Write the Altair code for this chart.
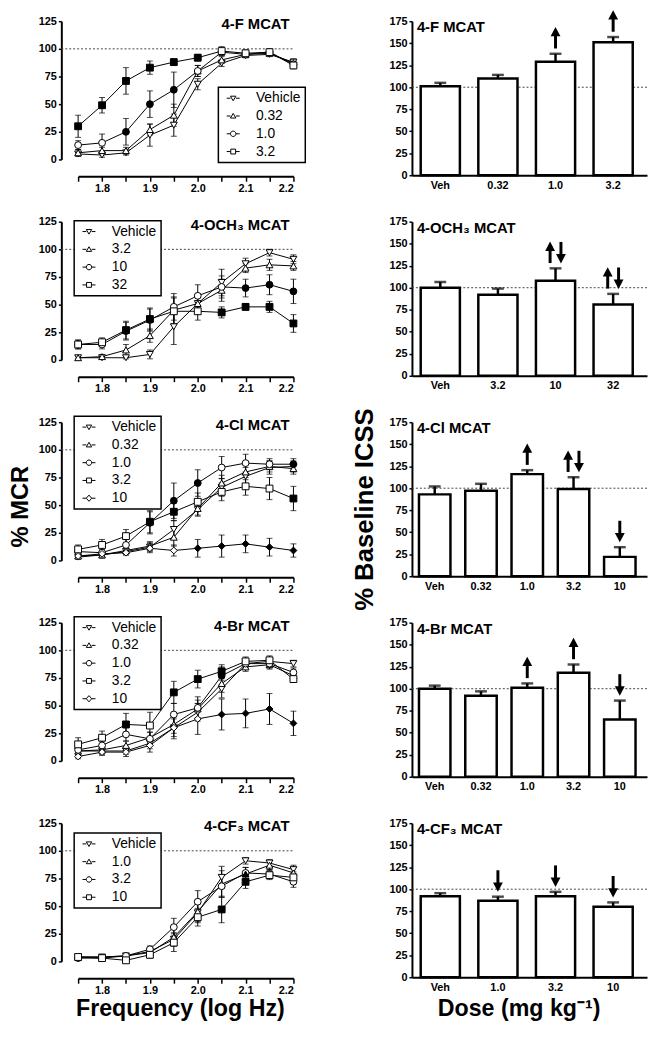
import altair as alt
import pandas as pd

FONT = "Liberation Sans"

# ---------------- shared axes values ----------------
FREQ = [1.75, 1.80, 1.85, 1.90, 1.95, 2.00, 2.05, 2.10, 2.15, 2.20]
Y_TICKS_MCR = [0, 25, 50, 75, 100, 125]
Y_TICKS_ICSS = [0, 25, 50, 75, 100, 125, 150, 175]

# ---------------- 4-F MCAT ----------------
F_DOSES = ["Vehicle", "0.32", "1.0", "3.2"]
F_VEH = [5, 4, 6, 22, 31, 68, 87, 94, 95, 88]
F_VEH_SEM = [2, 2, 2, 10, 10, 5, 3, 2, 2, 3]
F_VEH_SIG = [0, 0, 0, 0, 0, 0, 0, 0, 0, 0]
F_D1 = [6, 8, 8, 27, 40, 80, 90, 95, 96, 87]
F_D1_SEM = [3, 3, 3, 5, 10, 5, 3, 2, 2, 3]
F_D1_SIG = [0, 0, 0, 0, 0, 0, 0, 0, 0, 0]
F_D2 = [13, 15, 25, 50, 63, 80, 97, 95, 97, 86]
F_D2_SEM = [4, 8, 12, 12, 16, 5, 3, 3, 2, 3]
F_D2_SIG = [0, 0, 1, 1, 1, 0, 0, 0, 0, 0]
F_D3 = [30, 49, 71, 83, 88, 92, 98, 96, 97, 85]
F_D3_SEM = [10, 7, 12, 6, 3, 3, 4, 3, 2, 3]
F_D3_SIG = [1, 1, 1, 1, 1, 1, 0, 0, 0, 0]
F_BAR_CATS = ["Veh", "0.32", "1.0", "3.2"]
F_BAR = [101, 110, 129, 151]
F_BAR_SEM = [4, 4, 9, 6]
F_ARROWS = ["", "", "up", "up"]

# ---------------- 4-OCH3 MCAT ----------------
O_DOSES = ["Vehicle", "3.2", "10", "32"]
O_VEH = [2, 2, 2, 5, 30, 51, 70, 87, 97, 91]
O_VEH_SEM = [1, 1, 1, 4, 16, 8, 12, 5, 3, 4]
O_VEH_SIG = [0, 0, 0, 0, 0, 0, 0, 0, 0, 0]
O_D1 = [2, 3, 9, 22, 45, 51, 63, 83, 86, 85]
O_D1_SEM = [2, 2, 5, 6, 12, 8, 10, 4, 5, 4]
O_D1_SIG = [0, 0, 0, 0, 0, 0, 0, 0, 0, 0]
O_D2 = [14, 14, 26, 36, 48, 58, 66, 65, 68, 62]
O_D2_SEM = [4, 4, 8, 10, 12, 10, 10, 8, 9, 11]
O_D2_SIG = [0, 0, 0, 0, 0, 0, 0, 1, 1, 1]
O_D3 = [14, 16, 27, 37, 44, 44, 43, 48, 48, 33]
O_D3_SEM = [4, 4, 8, 10, 12, 8, 5, 3, 5, 8]
O_D3_SIG = [0, 0, 1, 1, 0, 0, 1, 1, 1, 1]
O_BAR_CATS = ["Veh", "3.2", "10", "32"]
O_BAR = [100, 92, 108, 81]
O_BAR_SEM = [6.5, 7, 14, 12]
O_ARROWS = ["", "", "both", "both"]

# ---------------- 4-Cl MCAT ----------------
C_DOSES = ["Vehicle", "0.32", "1.0", "3.2", "10"]
C_VEH = [3, 5, 8, 12, 28, 46, 66, 76, 84, 85]
C_VEH_SEM = [2, 2, 3, 4, 8, 6, 8, 8, 6, 5]
C_VEH_SIG = [0, 0, 0, 0, 0, 0, 0, 0, 0, 0]
C_D1 = [4, 5, 9, 13, 21, 47, 70, 80, 85, 83]
C_D1_SEM = [2, 3, 3, 4, 8, 6, 7, 7, 5, 5]
C_D1_SIG = [0, 0, 0, 0, 0, 0, 0, 0, 0, 0]
C_D2 = [8, 7, 14, 34, 54, 70, 84, 88, 87, 87]
C_D2_SEM = [4, 3, 5, 10, 16, 12, 10, 8, 5, 5]
C_D2_SIG = [0, 0, 0, 1, 1, 1, 0, 0, 0, 1]
C_D3 = [10, 14, 22, 35, 44, 53, 62, 67, 65, 56]
C_D3_SEM = [4, 5, 6, 10, 8, 8, 8, 8, 10, 11]
C_D3_SIG = [0, 0, 0, 1, 1, 0, 0, 0, 0, 1]
C_D4 = [4, 6, 7, 11, 9, 11, 13, 15, 12, 9]
C_D4_SEM = [2, 2, 2, 4, 5, 8, 10, 8, 8, 6]
C_D4_SIG = [0, 0, 0, 0, 0, 1, 1, 1, 1, 1]
C_BAR_CATS = ["Veh", "0.32", "1.0", "3.2", "10"]
C_BAR = [93, 97, 116, 99, 22]
C_BAR_SEM = [9, 8, 4.5, 13.5, 11]
C_ARROWS = ["", "", "up", "both", "down"]

# ---------------- 4-Br MCAT ----------------
B_DOSES = ["Vehicle", "0.32", "1.0", "3.2", "10"]
B_VEH = [9, 9, 9, 16, 30, 44, 65, 88, 90, 88]
B_VEH_SEM = [3, 3, 3, 5, 8, 8, 8, 4, 3, 3]
B_VEH_SIG = [0, 0, 0, 0, 0, 0, 0, 0, 0, 0]
B_D1 = [9, 10, 14, 21, 33, 47, 70, 85, 87, 77]
B_D1_SEM = [3, 3, 4, 5, 8, 8, 8, 4, 4, 4]
B_D1_SIG = [0, 0, 0, 0, 0, 0, 0, 0, 0, 0]
B_D2 = [10, 14, 24, 20, 42, 48, 77, 88, 88, 80]
B_D2_SEM = [3, 4, 6, 6, 10, 10, 8, 4, 4, 4]
B_D2_SIG = [0, 0, 0, 0, 0, 0, 1, 0, 0, 0]
B_D3 = [15, 21, 33, 32, 62, 74, 81, 90, 91, 74]
B_D3_SEM = [6, 6, 10, 12, 10, 8, 6, 4, 4, 3]
B_D3_SIG = [0, 0, 1, 0, 1, 1, 1, 0, 0, 0]
B_D4 = [4, 8, 8, 14, 30, 38, 42, 43, 47, 34]
B_D4_SEM = [2, 3, 4, 6, 10, 14, 14, 13, 14, 11]
B_D4_SIG = [0, 0, 0, 0, 0, 0, 1, 1, 1, 1]
B_BAR_CATS = ["Veh", "0.32", "1.0", "3.2", "10"]
B_BAR = [100, 92, 101, 118, 65]
B_BAR_SEM = [3.5, 5, 5, 9.5, 21.5]
B_ARROWS = ["", "", "up", "up", "down"]

# ---------------- 4-CF3 MCAT ----------------
T_DOSES = ["Vehicle", "1.0", "3.2", "10"]
T_VEH = [4, 4, 5, 9, 20, 44, 76, 91, 89, 83]
T_VEH_SEM = [2, 2, 2, 3, 6, 8, 10, 3, 3, 4]
T_VEH_SIG = [0, 0, 0, 0, 0, 0, 0, 0, 0, 0]
T_D1 = [4, 4, 5, 8, 22, 45, 70, 79, 87, 80]
T_D1_SEM = [2, 2, 2, 3, 8, 10, 12, 6, 4, 5]
T_D1_SIG = [0, 0, 0, 0, 0, 0, 0, 1, 0, 0]
T_D2 = [3, 3, 5, 11, 31, 54, 68, 80, 79, 72]
T_D2_SEM = [2, 2, 2, 3, 8, 10, 10, 5, 4, 5]
T_D2_SIG = [0, 0, 0, 0, 0, 0, 0, 0, 0, 0]
T_D3 = [4, 3, 1, 6, 17, 40, 47, 72, 78, 76]
T_D3_SEM = [2, 2, 2, 3, 8, 8, 12, 6, 4, 5]
T_D3_SIG = [0, 0, 0, 0, 0, 0, 1, 1, 0, 0]
T_BAR_CATS = ["Veh", "1.0", "3.2", "10"]
T_BAR = [92, 87, 92, 80]
T_BAR_SEM = [3.5, 4.5, 5, 5]
T_ARROWS = ["", "down", "down", "down"]

# ---------------- geometry / style ----------------
LW, LH = 218, 140
RW, RH = 238, 156
OFF = 17

SHAPES = ["triangle-down", "triangle-up", "circle", "square", "diamond"]
STUB = "M-2.4,0L-1,0M1,0L2.4,0"
LEG_PATHS = [
    STUB + "M-1,-0.75L1,-0.75L0,0.95Z",
    STUB + "M-1,0.75L1,0.75L0,-0.95Z",
    STUB + "M1,0A1,1,0,1,1,-1,0A1,1,0,1,1,1,0Z",
    STUB + "M-0.9,-0.9L0.9,-0.9L0.9,0.9L-0.9,0.9Z",
    STUB + "M0,-1.15L1,0L0,1.15L-1,0Z",
]
UP_HEAD = "M0,-1L0.95,0.8L-0.95,0.8Z"
DN_HEAD = "M0,1L0.95,-0.8L-0.95,-0.8Z"


def left_panel(title, doses, vals, sems, sigs, lx, ly, ytitle=None, xtitle=None):
    rows = []
    for i, d in enumerate(doses):
        for f, v, s, g in zip(FREQ, vals[i], sems[i], sigs[i]):
            rows.append({"freq": f, "val": v, "lo": v - s, "hi": v + s, "dose": d, "sig": g})
    df = pd.DataFrame(rows)
    n = len(doses)

    xkw = dict(values=FREQ, offset=OFF, tickSize=5, labelPadding=1,
               labelExpr="(round(datum.value*100) % 10 == 0) ? format(datum.value, '.1f') : ''",
               title=xtitle)
    if xtitle:
        xkw.update(titleFontSize=23.5, titlePadding=2, titleX=103)
    ykw = dict(values=Y_TICKS_MCR, offset=OFF, tickSize=3, labelPadding=2, title=ytitle)
    if ytitle:
        ykw.update(titleFontSize=24, titlePadding=6, titleY=85)
    xax = alt.Axis(**xkw)
    yax = alt.Axis(**ykw)
    xsc = alt.Scale(domain=[1.75, 2.2], nice=False, zero=False)
    ysc = alt.Scale(domain=[0, 125], nice=False)
    X = alt.X("freq:Q", scale=xsc, axis=xax)

    def Y(f):
        return alt.Y(f, type="quantitative", scale=ysc, axis=yax)

    base = alt.Chart(df)
    ref = alt.Chart(pd.DataFrame({"val": [100]})).mark_rule(
        color="#444444", strokeDash=[2, 2], strokeWidth=1
    ).encode(x=alt.value(-OFF), x2=alt.value(LW), y=Y("val"))
    lines = base.mark_line(color="black", strokeWidth=1).encode(x=X, y=Y("val"), detail="dose:N")
    err = base.mark_rule(color="black", strokeWidth=1).encode(x=X, y=Y("lo"), y2="hi:Q")
    cap_lo = base.mark_tick(orient="horizontal", size=6, thickness=1, color="black").encode(x=X, y=Y("lo"))
    cap_hi = base.mark_tick(orient="horizontal", size=6, thickness=1, color="black").encode(x=X, y=Y("hi"))
    shp = alt.Shape("dose:N", scale=alt.Scale(domain=doses, range=SHAPES[:n]), legend=None)
    pts_open = base.transform_filter("datum.sig == 0").mark_point(
        filled=True, fill="white", stroke="black", strokeWidth=1, size=48, opacity=1
    ).encode(x=X, y=Y("val"), shape=shp)
    pts_fill = base.transform_filter("datum.sig == 1").mark_point(
        filled=True, fill="black", stroke="black", strokeWidth=1, size=48, opacity=1
    ).encode(x=X, y=Y("val"), shape=shp)
    leg = base.transform_filter("false").mark_point(
        filled=False, color="black", strokeWidth=1, opacity=1
    ).encode(
        x=X, y=Y("val"),
        shape=alt.Shape("dose:N", scale=alt.Scale(domain=doses, range=LEG_PATHS[:n]),
                        legend=alt.Legend(orient="none", legendX=lx, legendY=ly, title=None,
                                          strokeColor="black", fillColor="white", padding=4,
                                          symbolOffset=4, symbolSize=30, labelOffset=16,
                                          rowPadding=4, labelFont=FONT, labelFontSize=14,
                                          labelColor="black", labelFontWeight="normal",
                                          symbolStrokeColor="black",
                                          symbolStrokeWidth=1, symbolOpacity=1)),
    )
    txt = alt.Chart(pd.DataFrame({"t": [title]})).mark_text(
        align="right", baseline="middle", font=FONT, fontSize=15, fontWeight="bold", color="black"
    ).encode(x=alt.value(LW - 4), y=alt.value(3), text="t:N")
    return alt.layer(ref, lines, err, cap_lo, cap_hi, pts_open, pts_fill, leg, txt).resolve_scale(
        shape="independent"
    ).properties(width=LW, height=LH)


def right_panel(title, cats, means, sems, arrows, ytitle=None, xtitle=None):
    df = pd.DataFrame({"dose": cats, "mean": means, "sem": sems, "arrow": arrows})
    xkw = dict(ticks=False, labelAngle=0, labelPadding=4, title=xtitle)
    if xtitle:
        xkw.update(titleFontSize=23.5, titlePadding=5, titleX=108)
    ykw = dict(values=Y_TICKS_ICSS, tickSize=3, labelPadding=2, title=ytitle)
    if ytitle:
        ykw.update(titleFontSize=26, titlePadding=12, titleY=88)
    xax = alt.Axis(**xkw)
    yax = alt.Axis(**ykw)
    X = alt.X("dose:N", sort=cats,
              scale=alt.Scale(domain=cats, paddingInner=0.32, paddingOuter=0.2, align=0.38),
              axis=xax)
    ysc = alt.Scale(domain=[0, 175], nice=False)

    def Y(f):
        return alt.Y(f, type="quantitative", scale=ysc, axis=yax)

    base = alt.Chart(df).transform_calculate(
        top="datum.mean + datum.sem",
        alo="datum.mean + datum.sem + 6",
    ).transform_calculate(
        ahi="datum.alo + 24",
        up_end="datum.alo + 17",
        up_head="datum.alo + 18.5",
        dn_start="datum.alo + 7",
        dn_head="datum.alo + 5.5",
    )
    ref = alt.Chart(pd.DataFrame({"mean": [100]})).mark_rule(
        color="#444444", strokeDash=[2, 2], strokeWidth=1
    ).encode(x=alt.value(0), x2=alt.value(RW), y=Y("mean"))
    bar = base.mark_bar(fill="white", stroke="black", strokeWidth=2.5).encode(x=X, y=Y("mean"))
    err = base.mark_rule(color="black", strokeWidth=2.5).encode(x=X, y=Y("mean"), y2="top:Q")
    cap = base.mark_tick(orient="horizontal", size=12, thickness=2.5, color="black").encode(x=X, y=Y("top"))

    layers = [ref, bar, err, cap]
    for cond, off in (("datum.arrow == 'up'", 0), ("datum.arrow == 'both'", -5.5)):
        b = base.transform_filter(cond)
        layers.append(b.mark_rule(color="black", strokeWidth=3, xOffset=off).encode(
            x=X, y=Y("alo"), y2="up_end:Q"))
        layers.append(b.mark_point(shape=UP_HEAD, filled=True, fill="black", size=110, opacity=1,
                                   strokeWidth=0, xOffset=off).encode(x=X, y=Y("up_head")))
    for cond, off in (("datum.arrow == 'down'", 0), ("datum.arrow == 'both'", 5.5)):
        b = base.transform_filter(cond)
        layers.append(b.mark_rule(color="black", strokeWidth=3, xOffset=off).encode(
            x=X, y=Y("dn_start"), y2="ahi:Q"))
        layers.append(b.mark_point(shape=DN_HEAD, filled=True, fill="black", size=110, opacity=1,
                                   strokeWidth=0, xOffset=off).encode(x=X, y=Y("dn_head")))
    txt = alt.Chart(pd.DataFrame({"t": [title]})).mark_text(
        align="left", baseline="middle", font=FONT, fontSize=15, fontWeight="bold", color="black"
    ).encode(x=alt.value(5), y=alt.value(6), text="t:N")
    layers.append(txt)
    return alt.layer(*layers).properties(width=RW, height=RH)


cells = [
    left_panel("4-F MCAT", F_DOSES,
               [F_VEH, F_D1, F_D2, F_D3], [F_VEH_SEM, F_D1_SEM, F_D2_SEM, F_D3_SEM],
               [F_VEH_SIG, F_D1_SIG, F_D2_SIG, F_D3_SIG], 142, 67),
    right_panel("4-F MCAT", F_BAR_CATS, F_BAR, F_BAR_SEM, F_ARROWS),
    left_panel("4-OCH\u2083 MCAT", O_DOSES,
               [O_VEH, O_D1, O_D2, O_D3], [O_VEH_SEM, O_D1_SEM, O_D2_SEM, O_D3_SEM],
               [O_VEH_SIG, O_D1_SIG, O_D2_SIG, O_D3_SIG], -4, -1),
    right_panel("4-OCH\u2083 MCAT", O_BAR_CATS, O_BAR, O_BAR_SEM, O_ARROWS),
    left_panel("4-Cl MCAT", C_DOSES,
               [C_VEH, C_D1, C_D2, C_D3, C_D4], [C_VEH_SEM, C_D1_SEM, C_D2_SEM, C_D3_SEM, C_D4_SEM],
               [C_VEH_SIG, C_D1_SIG, C_D2_SIG, C_D3_SIG, C_D4_SIG], -4, -6, ytitle="% MCR"),
    right_panel("4-Cl MCAT", C_BAR_CATS, C_BAR, C_BAR_SEM, C_ARROWS, ytitle="% Baseline ICSS"),
    left_panel("4-Br MCAT", B_DOSES,
               [B_VEH, B_D1, B_D2, B_D3, B_D4], [B_VEH_SEM, B_D1_SEM, B_D2_SEM, B_D3_SEM, B_D4_SEM],
               [B_VEH_SIG, B_D1_SIG, B_D2_SIG, B_D3_SIG, B_D4_SIG], -4, -6),
    right_panel("4-Br MCAT", B_BAR_CATS, B_BAR, B_BAR_SEM, B_ARROWS),
    left_panel("4-CF\u2083 MCAT", T_DOSES,
               [T_VEH, T_D1, T_D2, T_D3], [T_VEH_SEM, T_D1_SEM, T_D2_SEM, T_D3_SEM],
               [T_VEH_SIG, T_D1_SIG, T_D2_SIG, T_D3_SIG], -4, 10, xtitle="Frequency (log Hz)"),
    right_panel("4-CF\u2083 MCAT", T_BAR_CATS, T_BAR, T_BAR_SEM, T_ARROWS,
                xtitle="Dose (mg kg\u207b\u00b9)"),
]

chart = alt.concat(
    *cells, columns=2, spacing=alt.RowColnumber(row=47, column=120), bounds="flush", align="each"
).resolve_scale(
    x="independent", y="independent", shape="independent"
).resolve_legend(
    shape="independent"
).configure_view(
    stroke=None
).configure_axis(
    labelFont=FONT, labelFontSize=11, labelFontWeight="bold", labelColor="black",
    domainColor="black", domainWidth=2, tickColor="black", tickWidth=1.5,
    titleFont=FONT, titleFontWeight="bold", titleColor="black", grid=False,
).configure_legend(
    strokeWidth=1.5
).properties(
    autosize=alt.AutoSizeParams(type="none"),
    padding={"left": 71, "top": 7, "right": 577, "bottom": 1010},
    background="white",
)

chart.save("out.html", embed_options={"renderer": "svg", "actions": False})
